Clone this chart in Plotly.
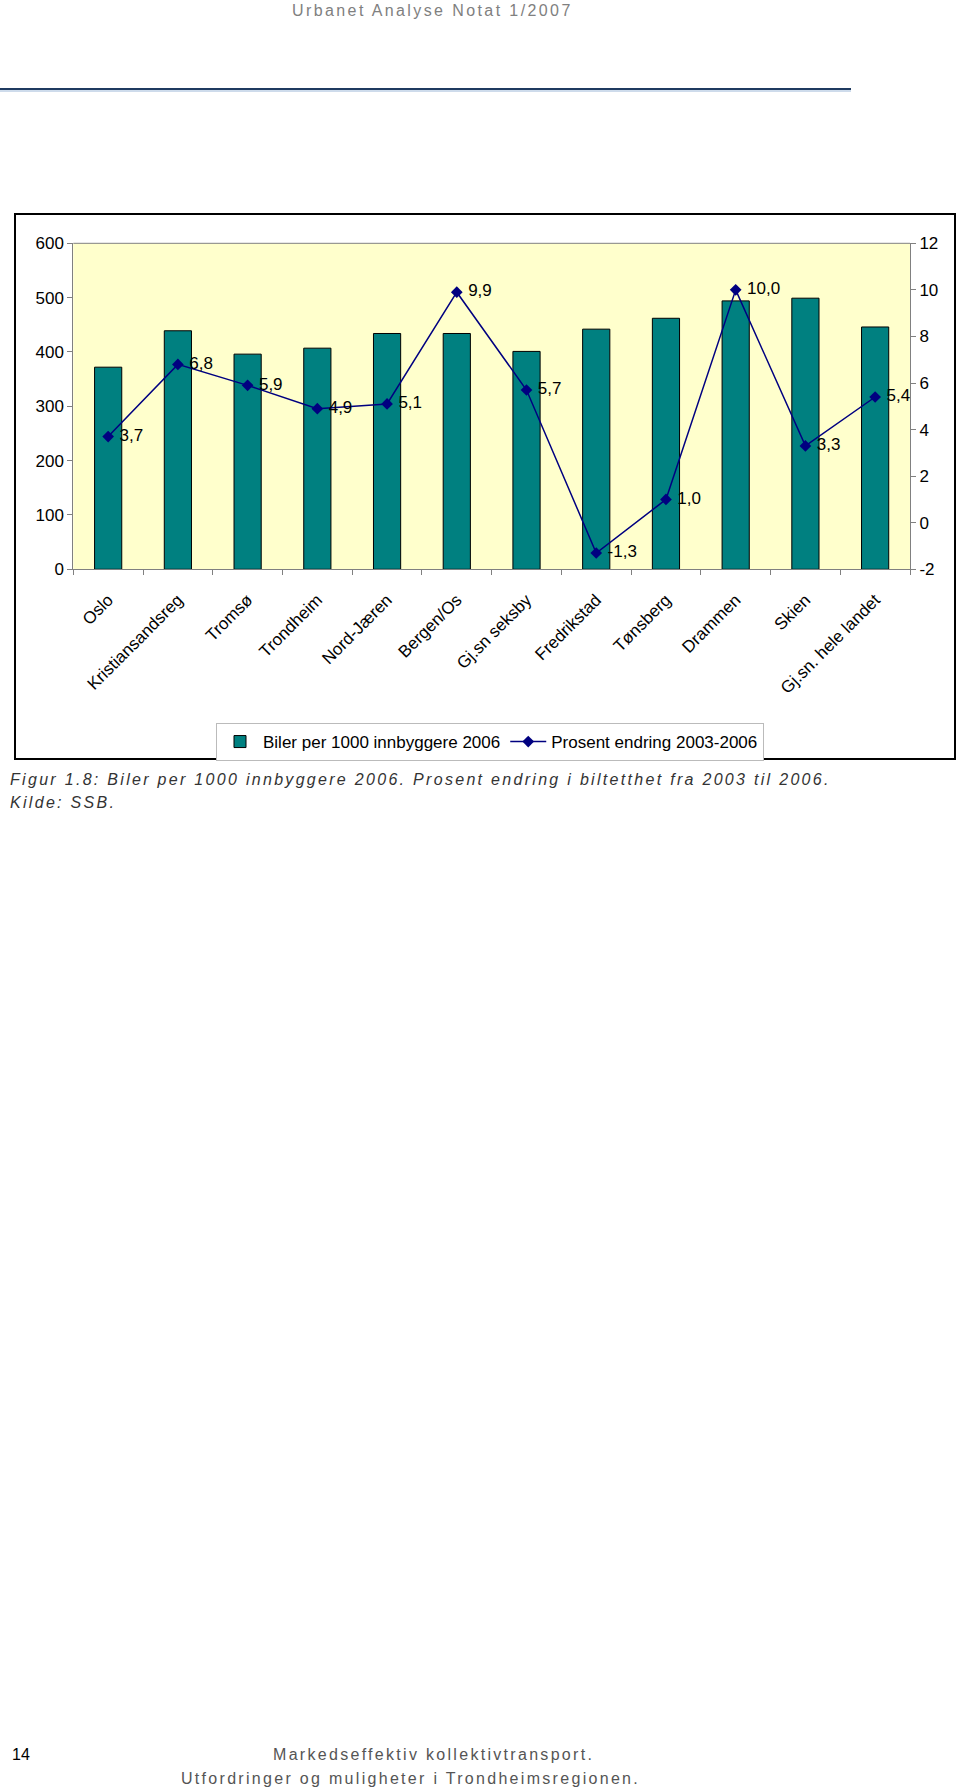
import plotly.graph_objects as go

categories = ["Oslo", "Kristiansandsreg", "Tromsø", "Trondheim", "Nord-Jæren", "Bergen/Os",
              "Gj.sn seksby", "Fredrikstad", "Tønsberg", "Drammen", "Skien", "Gj.sn. hele landet"]
cars_per_1000 = [372, 439, 396, 407, 434, 434, 401, 442, 462, 494, 499, 446]
pct_change = [3.7, 6.8, 5.9, 4.9, 5.1, 9.9, 5.7, -1.3, 1.0, 10.0, 3.3, 5.4]
left_ticks = [0, 100, 200, 300, 400, 500, 600]
right_ticks = [-2, 0, 2, 4, 6, 8, 10, 12]

W, H = 960, 1791
def px(x): return x / W
def py(y): return 1 - y / H

AX_FONT = dict(family="Liberation Sans, Arial, sans-serif", size=17, color="black")

fig = go.Figure()
fig.add_trace(go.Bar(
    x=categories, y=cars_per_1000, name="Biler per 1000 innbyggere 2006",
    marker=dict(color="#008080", line=dict(color="black", width=1)),
    width=0.39, yaxis="y"))
fig.add_trace(go.Scatter(
    x=categories, y=pct_change, name="Prosent endring 2003-2006",
    mode="lines+markers+text", yaxis="y2",
    line=dict(color="#000080", width=1.5),
    marker=dict(symbol="diamond", size=9, color="#000080"),
    text=["\u00a0" + f"{v:.1f}".replace(".", ",") for v in pct_change],
    textposition="middle right", textfont=AX_FONT, cliponaxis=False))

x0, x1 = 73.3, 910
yt, yb = 243.3, 569.3
fig.update_layout(
    width=W, height=H, autosize=False,
    margin=dict(l=0, r=0, t=0, b=0),
    paper_bgcolor="white", plot_bgcolor="#FFFFCC",
    showlegend=True,
    legend=dict(orientation="h", x=px(216), y=py(723), xanchor="left", yanchor="top",
                bordercolor="#BBBBBB", borderwidth=1, bgcolor="white",
                font=dict(family="Liberation Sans, Arial, sans-serif", size=17, color="black"),
                itemwidth=36, tracegroupgap=0),
    xaxis=dict(domain=[px(x0), px(x1)], type="category", tickangle=-45, automargin=False,
               range=[-0.5, len(categories) - 0.5],
               ticks="outside", tickson="boundaries", ticklen=5, tickcolor="#808080",
               showline=True, linecolor="#808080", linewidth=1, mirror=False,
               tickfont=AX_FONT, showgrid=False, ticklabelstandoff=13),
    yaxis=dict(domain=[py(yb), py(yt)], range=[0, 600], tickvals=left_ticks, automargin=False,
               ticks="outside", ticklen=5, tickcolor="#808080", showline=True,
               linecolor="#808080", showgrid=False, zeroline=False, tickfont=AX_FONT),
    yaxis2=dict(overlaying="y", side="right", range=[-2, 12], tickvals=right_ticks,
                ticktext=[str(v) for v in right_ticks], automargin=False,
                ticks="outside", ticklen=5, tickcolor="#808080", showline=True,
                linecolor="#808080", showgrid=False, zeroline=False, tickfont=AX_FONT),
)

shapes = [
    dict(type="line", xref="paper", yref="paper", x0=px(x0), x1=px(x1), y0=py(yt), y1=py(yt),
         line=dict(color="#808080", width=1)),
    dict(type="rect", xref="paper", yref="paper", x0=px(15), x1=px(955), y0=py(759), y1=py(214),
         line=dict(color="black", width=2)),
    dict(type="line", xref="paper", yref="paper", x0=0, x1=px(851), y0=py(89), y1=py(89),
         line=dict(color="#1F3A60", width=2)),
    dict(type="line", xref="paper", yref="paper", x0=0, x1=px(851), y0=py(91), y1=py(91),
         line=dict(color="#9DB8D8", width=1)),
]
fig.update_layout(shapes=shapes)

FONT = "Liberation Sans, Arial, sans-serif"
def sp(t, ls=2.3):
    return f'<span style="letter-spacing:{ls}px">{t}</span>'

ann = [
    dict(text=sp("Urbanet Analyse Notat 1/2007", 2.4), x=px(432), y=py(10), xanchor="center", yanchor="middle",
         font=dict(family=FONT, size=16, color="#808080")),
    dict(text="<i>" + sp("Figur 1.8: Biler per 1000 innbyggere 2006. Prosent endring i biltetthet fra 2003 til 2006.") + "</i>",
         x=px(8), y=py(780), xanchor="left", yanchor="middle",
         font=dict(family=FONT, size=16, color="#333333")),
    dict(text="<i>" + sp("Kilde: SSB.") + "</i>", x=px(8), y=py(802), xanchor="left", yanchor="middle",
         font=dict(family=FONT, size=16, color="#333333")),
    dict(text="14", x=px(10), y=py(1754), xanchor="left", yanchor="middle",
         font=dict(family=FONT, size=16, color="black")),
    dict(text=sp("Markedseffektiv kollektivtransport."), x=px(433), y=py(1754), xanchor="center", yanchor="middle",
         font=dict(family=FONT, size=16, color="#555555")),
    dict(text=sp("Utfordringer og muligheter i Trondheimsregionen."), x=px(410), y=py(1778), xanchor="center", yanchor="middle",
         font=dict(family=FONT, size=16, color="#555555")),
]
for a in ann:
    a.update(xref="paper", yref="paper", showarrow=False)
fig.update_layout(annotations=ann)

fig.write_html("out.html", config={"displayModeBar": False},
               post_script="document.body.style.margin='0';document.body.style.padding='0';")
